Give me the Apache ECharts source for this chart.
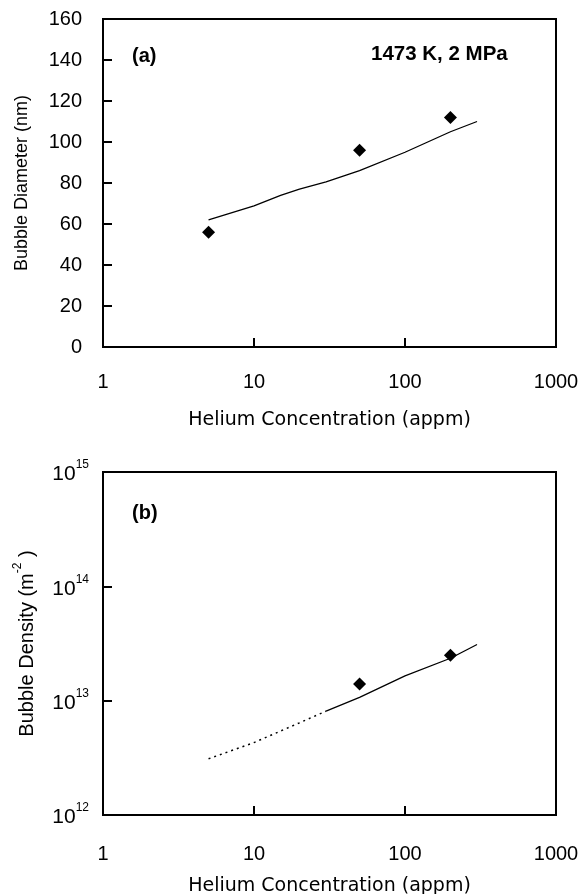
<!DOCTYPE html>
<html><head><meta charset="utf-8">
<script src="https://cdn.jsdelivr.net/npm/echarts@6/dist/echarts.min.js"></script>
<style>html,body{margin:0;padding:0;background:#fff}#c{width:581px;height:894px}</style>
</head><body><div id="c"></div>
<script>
// Panel (a): bubble diameter
const fitAX = [5, 10, 15, 20, 30, 50, 100, 200, 300];
const fitAY = [62, 68.8, 74, 77, 80.5, 86, 95, 105, 110];
const expAX = [5, 50, 200];
const expAY = [56, 96, 112];
const xTicks = [1, 10, 100, 1000];
const yTicksA = [0, 20, 40, 60, 80, 100, 120, 140, 160];
// Panel (b): bubble density
const fitBDotX = [5, 10, 20, 30];
const fitBDotY = [3.1e12, 4.3e12, 6.4e12, 8.1e12];
const fitBX = [30, 50, 100, 200, 300];
const fitBY = [8.1e12, 1.07e13, 1.65e13, 2.35e13, 3.1e13];
const expBX = [50, 200];
const expBY = [1.4e13, 2.5e13];
const yTicksB = [1e12, 1e13, 1e14, 1e15];

const FONT = 'Liberation Sans, Arial, sans-serif';
const WIDE = 'DejaVu Sans, sans-serif';
const pairs = (xs, ys) => xs.map((x, i) => [x, ys[i]]);

const axisLine = {show: true, onZero: false, lineStyle: {color: '#000', width: 2}};
const axisTick = {show: true, inside: true, length: 9, lineStyle: {color: '#000', width: 2}};

const xAxisBase = (gi, gap, nameGap) => ({
  type: 'log', logBase: 10, min: xTicks[0], max: xTicks[xTicks.length - 1], gridIndex: gi,
  axisLine, axisTick, splitLine: {show: false}, minorTick: {show: false},
  axisLabel: {color: '#000', fontSize: 20, fontFamily: FONT, margin: gap,
    formatter: v => String(Math.round(v))},
  name: 'Helium Concentration (appm)', nameLocation: 'middle', nameGap: nameGap,
  nameTextStyle: {color: '#000', fontSize: 19, fontFamily: WIDE}
});

const option = {
  animation: false,
  backgroundColor: '#fff',
  grid: [
    {left: 103, top: 19, width: 453, height: 328, show: true, borderColor: '#000', borderWidth: 2,
     backgroundColor: 'transparent', containLabel: false, outerBoundsMode: 'none'},
    {left: 103, top: 472, width: 453, height: 343, show: true, borderColor: '#000', borderWidth: 2,
     backgroundColor: 'transparent', containLabel: false, outerBoundsMode: 'none'}
  ],
  xAxis: [xAxisBase(0, 25, 64), xAxisBase(1, 29, 62)],
  yAxis: [
    {type: 'value', gridIndex: 0, min: yTicksA[0], max: yTicksA[yTicksA.length - 1], interval: 20,
     axisLine, axisTick, splitLine: {show: false},
     axisLabel: {color: '#000', fontSize: 20, fontFamily: FONT, margin: 21},
     name: 'Bubble Diameter (nm)', nameLocation: 'middle', nameGap: 72,
     nameTextStyle: {color: '#000', fontSize: 18, fontFamily: FONT}},
    {type: 'log', logBase: 10, gridIndex: 1, min: yTicksB[0], max: yTicksB[yTicksB.length - 1],
     axisLine, axisTick, splitLine: {show: false}, minorTick: {show: false},
     axisLabel: {color: '#000', fontFamily: FONT, margin: 14,
       formatter: v => '{b|10}{s|' + Math.round(Math.log10(v)) + '}',
       rich: {b: {fontSize: 21, fontFamily: FONT, color: '#000', lineHeight: 26, verticalAlign: 'bottom'},
              s: {fontSize: 12, fontFamily: FONT, color: '#000', lineHeight: 26, verticalAlign: 'top'}}},
     name: '{a|Bubble Density (m}{s|-2}{a| )}', nameLocation: 'middle', nameGap: 66,
     nameTextStyle: {color: '#000', fontFamily: FONT,
       rich: {a: {fontSize: 20, fontFamily: FONT, color: '#000', lineHeight: 25, verticalAlign: 'bottom'},
              s: {fontSize: 12, fontFamily: FONT, color: '#000', lineHeight: 25, verticalAlign: 'top'}}}}
  ],
  series: [
    {type: 'line', xAxisIndex: 0, yAxisIndex: 0, data: pairs(fitAX, fitAY), showSymbol: false,
     lineStyle: {color: '#000', width: 1.3}},
    {type: 'scatter', xAxisIndex: 0, yAxisIndex: 0, data: pairs(expAX, expAY), symbol: 'diamond',
     symbolSize: [13, 13], itemStyle: {color: '#000', opacity: 1}},
    {type: 'line', xAxisIndex: 1, yAxisIndex: 1, data: pairs(fitBDotX, fitBDotY), showSymbol: false,
     lineStyle: {color: '#000', width: 1.5, type: [2, 4]}},
    {type: 'line', xAxisIndex: 1, yAxisIndex: 1, data: pairs(fitBX, fitBY), showSymbol: false,
     lineStyle: {color: '#000', width: 1.3}},
    {type: 'scatter', xAxisIndex: 1, yAxisIndex: 1, data: pairs(expBX, expBY), symbol: 'diamond',
     symbolSize: [13, 13], itemStyle: {color: '#000', opacity: 1}}
  ],
  graphic: [
    {type: 'text', left: 132, top: 46, style: {text: '(a)', font: 'bold 20px ' + FONT, fill: '#000'}},
    {type: 'text', left: 371, top: 44, style: {text: '1473 K, 2 MPa', font: 'bold 20.5px ' + FONT, fill: '#000'}},
    {type: 'text', left: 132, top: 503, style: {text: '(b)', font: 'bold 20px ' + FONT, fill: '#000'}}
  ]
};
const chart = echarts.init(document.getElementById('c'), null, {renderer: 'canvas'});
chart.setOption(option);
</script></body></html>
